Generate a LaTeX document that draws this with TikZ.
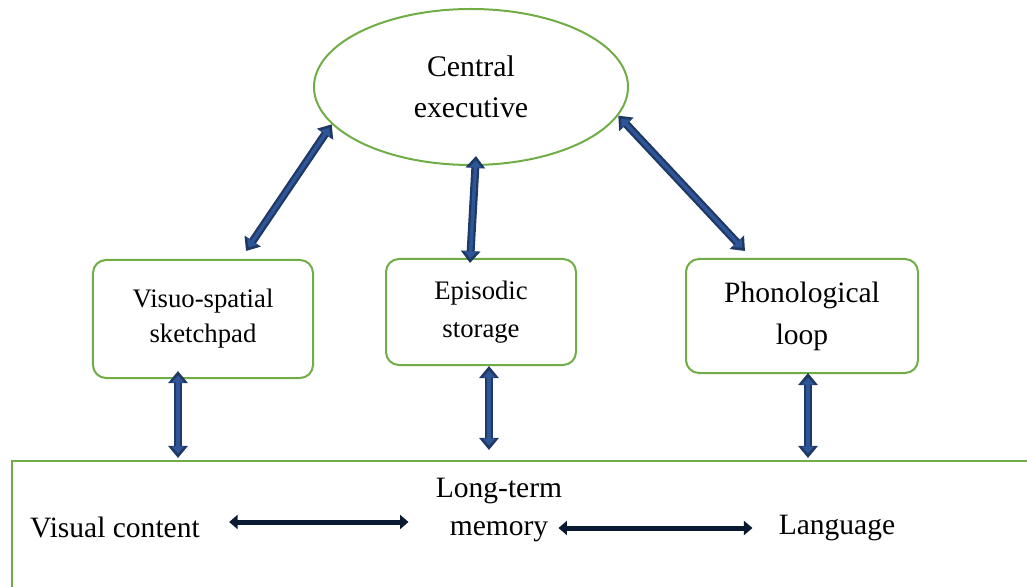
\documentclass[tikz,border=0pt]{standalone}
\usepackage{fontspec}
\setmainfont{Liberation Serif}
\usetikzlibrary{calc,shapes.geometric,arrows.meta}
\definecolor{boxgreen}{HTML}{70AD47}
\definecolor{linkedge}{HTML}{1F3864}
\definecolor{linkfill}{HTML}{2E5597}
\definecolor{flowdark}{HTML}{0B1A33}

\begin{document}
\begin{tikzpicture}[x=0.2mm,y=-0.2mm,
  part/.style={draw=boxgreen,line width=0.4mm,rounded corners=2.6mm,align=center,
    font=\fontsize{15.2}{20}\selectfont},
  label/.style={inner sep=0pt,align=center,font=\fontsize{16.8}{21.5}\selectfont},
  link/.style={line width=1.6mm,draw=linkedge,
    {Triangle[width=3.8mm,length=2.4mm]}-{Triangle[width=3.8mm,length=2.4mm]},
    postaction={draw=linkfill,line width=0.7mm,shorten <=0.9mm,shorten >=0.9mm,
      {Triangle[width=2.4mm,length=1.4mm]}-{Triangle[width=2.4mm,length=1.4mm]}}},
  flow/.style={line width=1mm,draw=flowdark,
    {Triangle[width=2.8mm,length=1.7mm]}-{Triangle[width=2.8mm,length=1.7mm]}}]
  \useasboundingbox (0,0) rectangle (1027,587);
  \clip (0,0) rectangle (1027,587);

  % central executive and the three parts
  \node[ellipse,draw=boxgreen,line width=0.4mm,minimum width=62.8mm,minimum height=31.2mm,
    align=center,font=\fontsize{17}{23.5}\selectfont] (ce) at (471,87) {Central\\executive};
  \node[part,minimum width=44mm,minimum height=23.6mm] (vs) at (203,319) {Visuo-spatial\\sketchpad};
  \node[part,minimum width=38mm,minimum height=21.2mm,font=\fontsize{15.2}{22}\selectfont]
    (es) at (481,312) {Episodic\\storage};
  \node[part,minimum width=46.4mm,minimum height=22.8mm,font=\fontsize{16.8}{24}\selectfont]
    (pl) at (802,316) {Phonological\\loop};

  % long-term memory box
  \node[draw=boxgreen,line width=0.4mm,anchor=north west,minimum width=210mm,
    minimum height=32mm] (ltm) at (11,460) {};
  \node[label] (vc) at (115,527) {Visual content};
  \node[label,font=\fontsize{16.8}{21.5}\selectfont] (lt) at (499,510) {Long-term\\memory};
  \node[label] (lang) at (837,528) {Language};

  % links
  \draw[link] (ce.195) -- ($(vs.north)+(43,-8)$);
  \draw[link] ($(ce.south)+(5,-10)$) -- ($(es.north)+(-11,5)$);
  \draw[link] (ce.-11) -- ($(pl.north)+(-57,-7)$);
  \coordinate (a) at ($(vs.south)+(-25,-8)$);
  \coordinate (b) at ($(es.south)+(8,0)$);
  \coordinate (c) at ($(pl.south)+(6,-1)$);
  \draw[link] (a) -- ($(a |- ltm.north)+(0,-2)$);
  \draw[link] (b) -- ($(b |- ltm.north)+(0,-10)$);
  \draw[link] (c) -- ($(c |- ltm.north)+(0,-2)$);
  \draw[flow] ($(vc.east)+(29,-5)$) -- ($(lt.west)+(-27,12)$);
  \draw[flow] ($(lt.east)+(-4,18)$) -- ($(lang.west)+(-26,0)$);
\end{tikzpicture}
\end{document}
